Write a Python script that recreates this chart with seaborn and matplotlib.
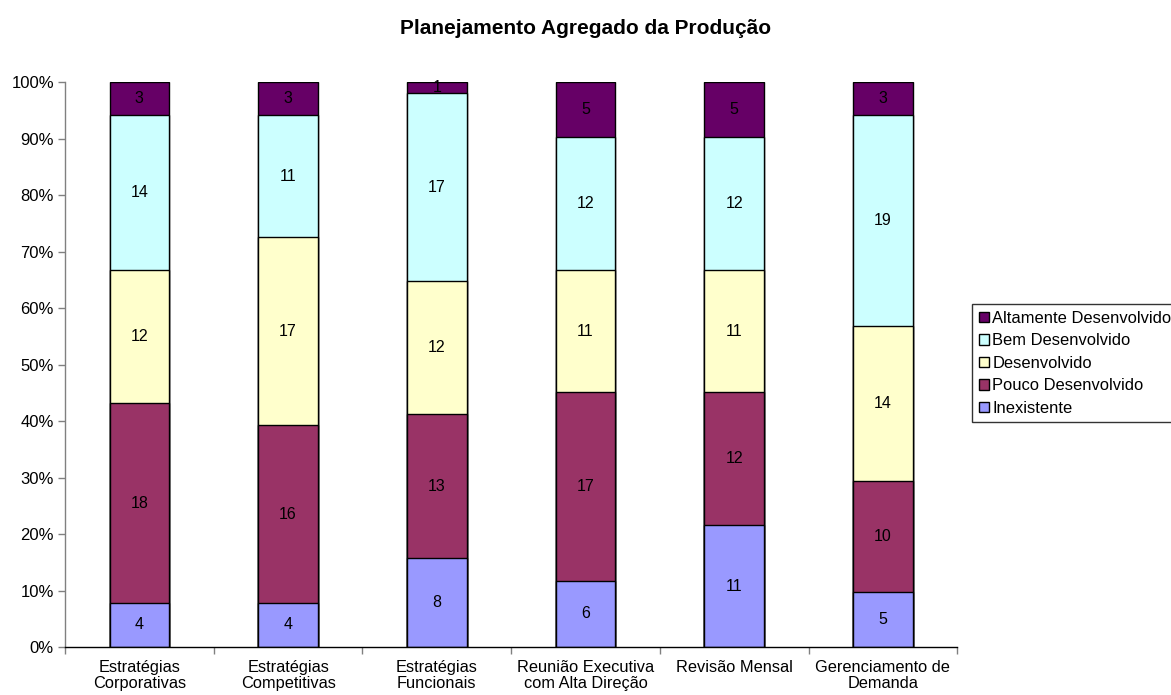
import numpy as np
import pandas as pd
import matplotlib
matplotlib.use("Agg")
import matplotlib.pyplot as plt
import seaborn as sns

categories = ["Estratégias\nCorporativas", "Estratégias\nCompetitivas", "Estratégias\nFuncionais",
              "Reunião Executiva\ncom Alta Direção", "Revisão Mensal", "Gerenciamento de\nDemanda"]
series = ["Inexistente", "Pouco Desenvolvido", "Desenvolvido", "Bem Desenvolvido", "Altamente Desenvolvido"]
inexistente = [4, 4, 8, 6, 11, 5]
pouco = [18, 16, 13, 17, 12, 10]
desenvolvido = [12, 17, 12, 11, 11, 14]
bem = [14, 11, 17, 12, 12, 19]
altamente = [3, 3, 1, 5, 5, 3]
colors = ["#9999FF", "#993366", "#FFFFCC", "#CCFFFF", "#660066"]

sns.set_theme(style="white")
plt.rcParams['font.family'] = ['Liberation Sans', 'DejaVu Sans']
plt.rcParams['text.color'] = 'black'
plt.rcParams['xtick.labelcolor'] = 'black'
plt.rcParams['ytick.labelcolor'] = 'black'

vals = np.array([inexistente, pouco, desenvolvido, bem, altamente], dtype=float)
pct = vals / vals.sum(axis=0) * 100
cum = np.cumsum(pct, axis=0)

fig = plt.figure(figsize=(11.71, 6.95), dpi=100)
ax = fig.add_axes([0.0555, 0.069, 0.762, 0.813])

x = np.arange(len(categories))
for i in range(len(series) - 1, -1, -1):
    df = pd.DataFrame({"cat": categories, "v": cum[i]})
    sns.barplot(data=df, x="cat", y="v", color=colors[i], width=0.4, saturation=1,
                edgecolor="black", linewidth=1, ax=ax, label=series[i], order=categories)

for i in range(len(series)):
    for j in range(len(categories)):
        c = cum[i, j] - pct[i, j] / 2
        ax.text(j, c, f"{int(vals[i, j])}", ha="center", va="center", fontsize=11.5, color="black")

ax.set_ylim(0, 100)
ax.set_xlim(-0.5, len(categories) - 0.5)
ax.set_yticks(np.arange(0, 101, 10))
ax.set_yticklabels([f"{t}%" for t in range(0, 101, 10)], fontsize=12, color="black")
ax.set_xticks(x)
ax.set_xticklabels(categories, fontsize=11.8, linespacing=1.1, color="black")
ax.set_xticks(np.arange(-0.5, len(categories), 1), minor=True)
ax.tick_params(axis="x", which="major", length=0, pad=9)
ax.tick_params(axis="x", which="minor", length=5, color="#808080", width=1, direction="out", bottom=True)
ax.tick_params(axis="y", which="major", length=5, color="#808080", width=1, direction="out", left=True, pad=3)
ax.set_xlabel("")
ax.set_ylabel("")
for s in ["top", "right"]:
    ax.spines[s].set_visible(False)
ax.spines["left"].set_color("#808080")
ax.spines["bottom"].set_color("black")
ax.spines["left"].set_linewidth(1)
ax.spines["bottom"].set_linewidth(1)

fig.suptitle("Planejamento Agregado da Produção", fontsize=15, fontweight="bold", y=1 - 28 / 695,
             va="center", color="black")

handles, labels = ax.get_legend_handles_labels()
leg = ax.legend(handles, labels, loc="center left", bbox_to_anchor=(1.017, 0.502), fontsize=11.9,
                frameon=True, fancybox=False, edgecolor="black", handlelength=0.6, handleheight=0.6,
                handletextpad=0.2, borderpad=0.4, labelspacing=0.45, borderaxespad=0)
leg.get_frame().set_linewidth(1)
for t in leg.get_texts():
    t.set_color("black")

fig.savefig("out.png", dpi=100)
